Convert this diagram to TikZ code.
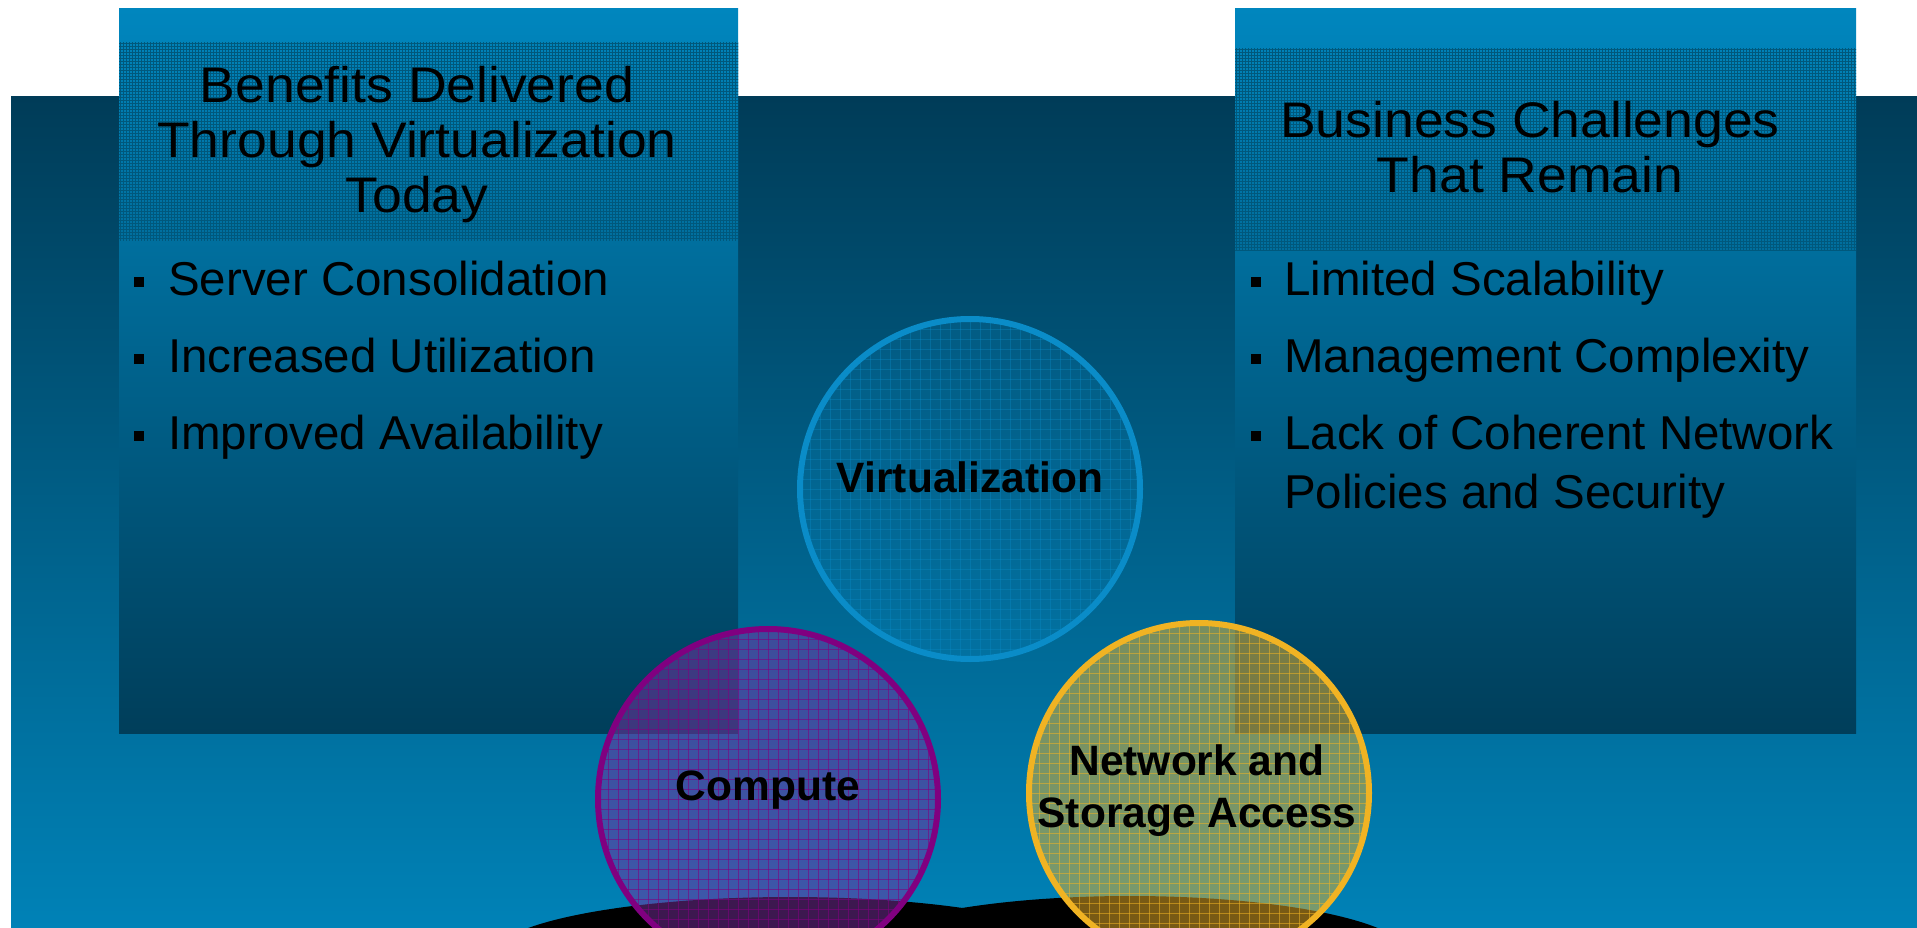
\documentclass[tikz,border=0pt]{standalone}
\usepackage{fontspec}
\setmainfont{Liberation Sans}
\newfontfamily\hdrfont[FakeStretch=1.07]{Liberation Sans}
\usetikzlibrary{patterns}
\definecolor{bgtop}{HTML}{003C58}
\definecolor{bgmid}{HTML}{00628B}
\definecolor{bgbot}{HTML}{0082B7}
\definecolor{pantop}{HTML}{0086BE}
\definecolor{panmid}{HTML}{006D9A}
\definecolor{panbot}{HTML}{003E5A}
\definecolor{hatch}{HTML}{00587C}
\definecolor{virtline}{HTML}{0A8CC8}
\definecolor{compline}{HTML}{800080}
\definecolor{compfill}{HTML}{7A30A0}
\definecolor{netline}{HTML}{F0B323}
\definecolor{netfill}{HTML}{F0B428}
\tikzset{
  hdr/.style={font=\hdrfont\fontsize{50}{55}\selectfont, text=black, inner sep=0pt, anchor=base},
  itm/.style={font=\fontsize{47.5}{55}\selectfont, text=black, inner sep=0pt, anchor=base west},
  bul/.style={rectangle, fill=black, minimum size=10pt, inner sep=0pt},
  lbl/.style={font=\fontsize{42.5}{50}\selectfont\bfseries, text=black, inner sep=0pt, anchor=base},
  panel/.style={top color=pantop, middle color=panmid, bottom color=panbot},
}
\begin{document}
\begin{tikzpicture}[x=1pt,y=-1pt]
\useasboundingbox (0,0) rectangle (1917,928);
\clip (0,0) rectangle (1917,928);
\fill[white] (0,0) rectangle (1917,928);
% background
\shade[top color=bgtop, middle color=bgmid, bottom color=bgbot] (11,97) rectangle (1917,928);
% panels
\shade[panel] (119,9) rectangle (738,733);
\shade[panel] (1235,9) rectangle (1856,733);
% header hatching
\fill[pattern=grid, pattern color=hatch] (119,43) rectangle (738,241);
\fill[pattern=grid, pattern color=hatch] (1235,49) rectangle (1856,251);
% black bases
\fill[black] (790,957) ellipse[x radius=299pt, y radius=60pt];
\fill[black] (1130,956) ellipse[x radius=280pt, y radius=60pt];
% Virtualization circle
\node[circle, minimum size=340pt, inner sep=0pt, fill=virtline, fill opacity=0.2] (virt) at (970,489) {};
\begin{scope}
\clip (970,489) circle[radius=170pt];
\foreach \i in {0,...,34} {
  \draw[virtline, line width=0.8pt, opacity=0.35] (800+10*\i,310) -- ++(0,360);
  \draw[virtline, line width=0.8pt, opacity=0.35] (790,319+10*\i) -- ++(360,0);
}
\end{scope}
\node[circle, minimum size=340pt, inner sep=0pt, draw=virtline, line width=6pt] (virto) at (970,489) {};
% Compute circle
\node[circle, minimum size=340pt, inner sep=0pt, fill=compfill, fill opacity=0.5] (comp) at (768,799) {};
\begin{scope}
\clip (768,799) circle[radius=170pt];
\foreach \i in {0,...,34} {
  \draw[compline, line width=1pt, opacity=0.6] (598+10*\i,620) -- ++(0,360);
  \draw[compline, line width=1pt, opacity=0.6] (590,629+10*\i) -- ++(360,0);
}
\end{scope}
\node[circle, minimum size=340pt, inner sep=0pt, draw=compline, line width=6pt] (compo) at (768,799) {};
% Network circle
\node[circle, minimum size=340pt, inner sep=0pt, fill=netfill, fill opacity=0.5] (net) at (1199,793) {};
\begin{scope}
\clip (1199,793) circle[radius=170pt];
\foreach \i in {0,...,34} {
  \draw[netline, line width=1pt, opacity=0.55] (1029+10*\i,615) -- ++(0,360);
  \draw[netline, line width=1pt, opacity=0.55] (1020,623+10*\i) -- ++(360,0);
}
\end{scope}
\node[circle, minimum size=340pt, inner sep=0pt, draw=netline, line width=6pt] (neto) at (1199,793) {};
% headers
\node[hdr] (h1) at (417,103) {Benefits Delivered};
\node[hdr] (h2) at (417,158) {Through Virtualization};
\node[hdr] (h3) at (417,213) {Today};
\node[hdr] (h4) at (1530,138) {Business Challenges};
\node[hdr] (h5) at (1530,193) {That Remain};
% left bullets
\node[bul] (lb1) at (139,282) {};
\node[itm] (lt1) at (168,295) {Server Consolidation};
\node[bul] (lb2) at (139,359) {};
\node[itm] (lt2) at (168,372) {Increased Utilization};
\node[bul] (lb3) at (139,436) {};
\node[itm] (lt3) at (168,449) {Improved Availability};
% right bullets
\node[bul] (rb1) at (1256,282) {};
\node[itm] (rt1) at (1284,295) {Limited Scalability};
\node[bul] (rb2) at (1256,359) {};
\node[itm] (rt2) at (1284,372) {Management Complexity};
\node[bul] (rb3) at (1256,436) {};
\node[itm] (rt3) at (1284,449) {Lack of Coherent Network};
\node[itm] (rt4) at (1284,508) {Policies and Security};
% circle labels
\node[lbl] (lv) at (970,492) {Virtualization};
\node[lbl] (lc) at (768,800) {Compute};
\node[lbl] (ln1) at (1197,775) {Network and};
\node[lbl] (ln2) at (1197,827) {Storage Access};
\end{tikzpicture}
\end{document}
